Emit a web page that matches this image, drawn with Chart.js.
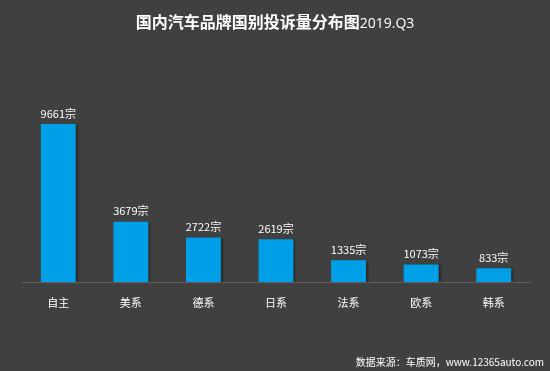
<!DOCTYPE html>
<html><head><meta charset="utf-8">
<script src="https://cdn.jsdelivr.net/npm/chart.js@4/dist/chart.umd.min.js"></script>
<style>
html,body{margin:0;padding:0;background:#404040;}
#wrap{position:relative;width:550px;height:371px;background:#404040;overflow:hidden;}
#title{position:absolute;left:0;top:9px;width:550px;text-align:center;color:#fff;font-family:"Noto Sans CJK SC",sans-serif;white-space:nowrap;}
#title b{font-size:16px;font-weight:bold;}
#title span{font-size:14px;font-family:"Open Sans","Noto Sans",sans-serif;}
#src{position:absolute;right:6px;top:354px;color:#fff;font-size:10px;font-family:"Noto Sans CJK SC",sans-serif;}
canvas{position:absolute;left:0;top:0;}
</style></head>
<body><div id="wrap">
<canvas id="c" width="550" height="371"></canvas>
<div id="title"><b>国内汽车品牌国别投诉量分布图</b><span>2019.Q3</span></div>
<div id="src">数据来源：车质网，www.12365auto.com</div>
</div>
<script>
const categories = ["自主","美系","德系","日系","法系","欧系","韩系"];
const complaints = [9661,3679,2722,2619,1335,1073,833];
const unit = "宗";

const shadowPlugin = {
  id:'shadow',
  beforeDatasetsDraw(chart){ const c=chart.ctx; c.save(); c.shadowColor='rgba(0,0,0,0.35)'; c.shadowOffsetX=2; c.shadowOffsetY=1; c.shadowBlur=2; },
  afterDatasetsDraw(chart){ chart.ctx.restore(); }
};
const labelPlugin = {
  id:'vlabels',
  afterDatasetsDraw(chart){
    const c=chart.ctx; const meta=chart.getDatasetMeta(0);
    c.save(); c.fillStyle='#ffffff'; c.font='11px "Noto Sans CJK SC", sans-serif';
    c.textAlign='center'; c.textBaseline='bottom';
    meta.data.forEach((b,i)=>{ c.fillText(complaints[i]+unit, b.x, b.y-5); });
    c.restore();
  }
};

new Chart(document.getElementById('c'),{
  type:'bar',
  data:{labels:categories,datasets:[{data:complaints,backgroundColor:'#00A0E9',borderWidth:0,barPercentage:0.6,categoryPercentage:0.8}]},
  options:{
    responsive:false,animation:false,
    layout:{padding:{left:22,right:20,top:102,bottom:59}},
    plugins:{legend:{display:false},tooltip:{enabled:false}},
    scales:{
      x:{grid:{display:false},border:{display:true,color:'#5f5f5f',width:1},
         ticks:{color:'#ffffff',padding:6,font:{size:11,family:'"Noto Sans CJK SC", sans-serif'}},
         afterFit(s){s.height=30;}},
      y:{display:false,min:0,max:11000}
    }
  },
  plugins:[shadowPlugin,labelPlugin]
});
</script>
</body></html>
